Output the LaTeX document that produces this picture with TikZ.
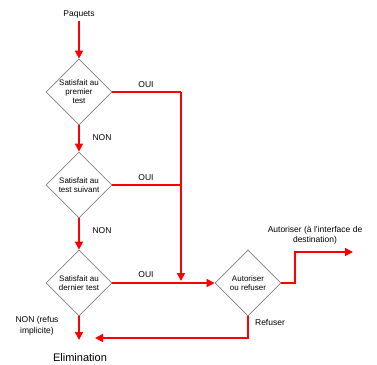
\documentclass[tikz,border=0pt]{standalone}
\usepackage{fontspec}
\setmainfont{Liberation Sans}
\usetikzlibrary{shapes.geometric,arrows.meta}
\tikzset{
  test/.style={diamond, draw=gray, line width=0.7pt, minimum width=66pt,
    minimum height=66pt, inner sep=0pt, align=center,
    font=\fontsize{8}{9}\selectfont},
  flux/.style={draw=red, line width=1.5pt},
  fleche/.style={flux, -{Triangle[length=8pt,width=8pt]}},
  lbl/.style={font=\fontsize{8.5}{10.5}\selectfont, align=center}
}

\begin{document}
\begin{tikzpicture}[x=1pt,y=-1pt]
        \useasboundingbox (0,0) rectangle (377,364);

        \coordinate (Cun) at (181, 92);
        \coordinate (Cdeux) at (181, 185);
        \coordinate (Ctrois) at (181, 281);
        \coordinate (Aa) at (295, 283);
        \coordinate (Ab) at (295, 252);
        \coordinate (Ac) at (353, 252);
        \coordinate (Ra) at (248, 338);
        \coordinate (Rb) at (95, 338);
        \coordinate (Ea) at (79, 340);

        \node[lbl] (Paq) at (79, 14) {Paquets};
        \node[test] (Tun) at (79, 92) {Satisfait au\\premier\\test};
        \node[test] (Tdeux) at (79, 185) {Satisfait au\\test suivant};
        \node[test] (Ttrois) at (79, 283) {Satisfait au\\dernier test};
        \node[test] (Aut) at (248, 283) {Autoriser\\ou refuser};
        \node[font=\fontsize{11}{13}\selectfont] (Elim) at (80, 358) {Elimination};

        \node[lbl] (Oun) at (146, 85) {OUI};
        \node[lbl] (Odeux) at (146, 178) {OUI};
        \node[lbl] (Otrois) at (146, 275) {OUI};
        \node[lbl] (Nun) at (102, 138) {NON};
        \node[lbl] (Ndeux) at (102, 231) {NON};
        \node[lbl] (Ntrois) at (37, 326) {NON (refus\\implicite)};
        \node[lbl] (Ref) at (270, 322) {Refuser};
        \node[lbl] (Dest) at (315, 235) {Autoriser (à l'interface de\\destination)};

        \draw[fleche] (Paq) -- (Tun);
        \draw[fleche] (Tun) -- (Tdeux);
        \draw[fleche] (Tdeux) -- (Ttrois);
        \draw[fleche] (Ttrois) -- (Ea);

        \draw[flux] (Tun.east) -- (Cun);
        \draw[flux] (Tdeux.east) -- (Cdeux);
        \draw[fleche] (Cun) -- (Ctrois);
        \draw[fleche] (Ttrois.east) -- (Aut.west);

        \draw[fleche] (Aut.east) -- (Aa) -- (Ab) -- (Ac);
        \draw[fleche] (Aut.south) -- (Ra) -- (Rb);
      \end{tikzpicture}
\end{document}
